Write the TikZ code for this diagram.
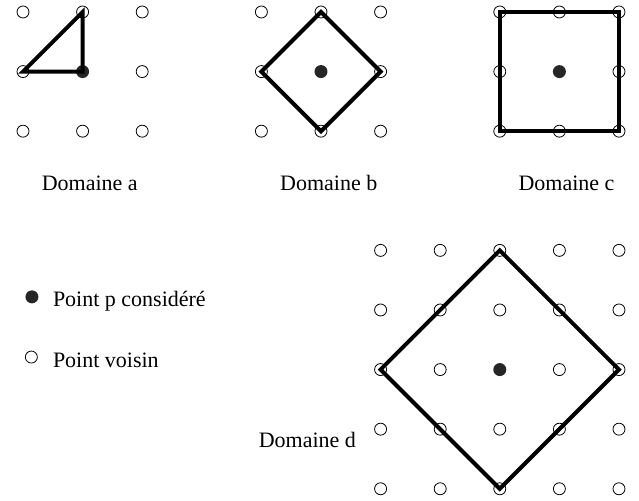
\documentclass[tikz,border=0pt]{standalone}
\usepackage{fontspec}
\setmainfont{Liberation Serif}
\usepackage{tikz}
\usetikzlibrary{positioning}

\tikzset{
  voisin/.style={circle, draw, line width=0.8pt, minimum size=12pt, inner sep=0pt},
  considere/.style={circle, fill=black!85, minimum size=13pt, inner sep=0pt},
  domaine/.style={line width=4pt},
  legende/.style={inner sep=0pt, font=\fontsize{22}{26}\selectfont},
}

\begin{document}
\begin{tikzpicture}[x=59.6pt, y=59.6pt]
  \useasboundingbox (-0.386,0.201) rectangle (10.336,-8.205);

  % domaine a
  \foreach \i in {0,1,2}
    \foreach \j in {0,1,2}{
      \ifnum\i\j=11
        \node[considere] (a\i\j) at (\i,-\j) {};
      \else
        \node[voisin] (a\i\j) at (\i,-\j) {};
      \fi
    }
  \draw[domaine] (a01.center) -- (a11.center) -- (a10.center) -- cycle;
  \node[legende, anchor=base] (lbla) at (1.12,-3) {Domaine a};

  % domaine b
  \foreach \i in {0,1,2}
    \foreach \j in {0,1,2}{
      \ifnum\i\j=11
        \node[considere] (b\i\j) at (\i+4,-\j) {};
      \else
        \node[voisin] (b\i\j) at (\i+4,-\j) {};
      \fi
    }
  \draw[domaine] (b10.center) -- (b21.center) -- (b12.center) -- (b01.center) -- cycle;
  \node[legende, anchor=base] (lblb) at (5.13,-3) {Domaine b};

  % domaine c
  \foreach \i in {0,1,2}
    \foreach \j in {0,1,2}{
      \ifnum\i\j=11
        \node[considere] (c\i\j) at (\i+8,-\j) {};
      \else
        \node[voisin] (c\i\j) at (\i+8,-\j) {};
      \fi
    }
  \draw[domaine] (c00.center) -- (c20.center) -- (c22.center) -- (c02.center) -- cycle;
  \node[legende, anchor=base] (lblc) at (9.12,-3) {Domaine c};

  % domaine d
  \foreach \i in {0,...,4}
    \foreach \j in {0,...,4}{
      \ifnum\i\j=22
        \node[considere] (d\i\j) at (\i+6,-\j-4) {};
      \else
        \node[voisin] (d\i\j) at (\i+6,-\j-4) {};
      \fi
    }
  \draw[domaine] (d20.center) -- (d42.center) -- (d24.center) -- (d02.center) -- cycle;
  \node[legende, anchor=base east] (lbld) at (5.59,-7.3) {Domaine d};

  % legende
  \node[considere] (lp) at (0.15,-4.78) {};
  \node[legende, anchor=base west] (txtp) at (0.5,-4.95) {Point p considéré};
  \node[voisin] (lv) at (0.14,-5.79) {};
  \node[legende, anchor=base west] (txtv) at (0.5,-5.97) {Point voisin};
\end{tikzpicture}
\end{document}
